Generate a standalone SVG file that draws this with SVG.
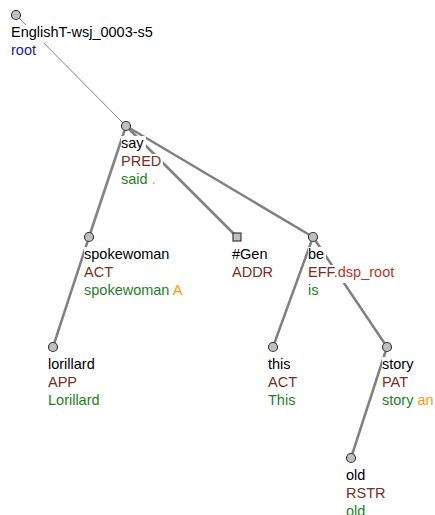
<svg xmlns="http://www.w3.org/2000/svg" width="435" height="515" viewBox="0 0 435 515">
<style>
text{font-family:"Liberation Sans",Arial,sans-serif;font-size:14.5px}
.n{fill:#000}.f{fill:#7a2e22}.s{fill:#b8352a}.l{fill:#1f7f1f}.o{fill:#ff9a00}.r{fill:#1c1ca0}
.bg{fill:#fff}
.e{stroke:#808080;stroke-width:2.5;fill:none}
.et{stroke:#808080;stroke-width:1;fill:none}
.c{fill:#c0c0c0;stroke:#3a3a3a;stroke-width:1.2}
</style>
<rect width="435" height="515" fill="#fff"/>
<g id="connectors">
<line class="et" x1="16" y1="15" x2="126" y2="126"/>
<line class="e" x1="126" y1="126" x2="89" y2="237"/>
<line class="e" x1="126" y1="126" x2="237" y2="237"/>
<line class="e" x1="126" y1="126" x2="313" y2="237"/>
<line class="e" x1="89" y1="237" x2="53" y2="347"/>
<line class="e" x1="313" y1="237" x2="273" y2="347"/>
<line class="e" x1="313" y1="237" x2="387" y2="347"/>
<line class="e" x1="387" y1="347" x2="351" y2="458"/>
</g>
<g id="node-root">
<rect class="bg" x="11" y="25" width="145" height="18"/>
<rect class="bg" x="11" y="43" width="27" height="18"/>
<text x="11" y="37" class="n">EnglishT-wsj_0003-s5</text>
<text x="11" y="55" class="r">root</text>
<circle class="c" cx="16" cy="15" r="4.5"/>
</g>
<g id="node-say">
<rect class="bg" x="121" y="136" width="25" height="18"/>
<rect class="bg" x="121" y="154" width="42" height="18"/>
<rect class="bg" x="121" y="172" width="37" height="18"/>
<text x="121" y="148" class="n">say</text>
<text x="121" y="166" class="f">PRED</text>
<text x="121" y="184"><tspan class="l">said</tspan> <tspan class="o">.</tspan></text>
<circle class="c" cx="126" cy="126" r="4.5"/>
</g>
<g id="node-spokewoman">
<rect class="bg" x="84" y="247" width="87" height="18"/>
<rect class="bg" x="84" y="265" width="31" height="18"/>
<rect class="bg" x="84" y="283" width="101" height="18"/>
<text x="84" y="259" class="n">spokewoman</text>
<text x="84" y="277" class="f">ACT</text>
<text x="84" y="295"><tspan class="l">spokewoman</tspan> <tspan class="o">A</tspan></text>
<circle class="c" cx="89" cy="237" r="4.5"/>
</g>
<g id="node-gen">
<rect class="bg" x="232" y="247" width="37" height="18"/>
<rect class="bg" x="232" y="265" width="43" height="18"/>
<text x="232" y="259" class="n">#Gen</text>
<text x="232" y="277" class="f">ADDR</text>
<rect class="c" x="233" y="233" width="8" height="8"/>
</g>
<g id="node-be">
<rect class="bg" x="308" y="247" width="18" height="18"/>
<rect class="bg" x="308" y="265" width="90" height="18"/>
<rect class="bg" x="308" y="283" width="12" height="18"/>
<text x="308" y="259" class="n">be</text>
<text x="308" y="277"><tspan class="f">EFF</tspan><tspan class="s">.dsp_root</tspan></text>
<text x="308" y="295" class="l">is</text>
<circle class="c" cx="313" cy="237" r="4.5"/>
</g>
<g id="node-lorillard">
<rect class="bg" x="48" y="357" width="48" height="18"/>
<rect class="bg" x="48" y="375" width="31" height="18"/>
<rect class="bg" x="48" y="393" width="53" height="18"/>
<text x="48" y="369" class="n">lorillard</text>
<text x="48" y="387" class="f">APP</text>
<text x="48" y="405" class="l">Lorillard</text>
<circle class="c" cx="53" cy="347" r="4.5"/>
</g>
<g id="node-this">
<rect class="bg" x="268" y="357" width="24" height="18"/>
<rect class="bg" x="268" y="375" width="31" height="18"/>
<rect class="bg" x="268" y="393" width="29" height="18"/>
<text x="268" y="369" class="n">this</text>
<text x="268" y="387" class="f">ACT</text>
<text x="268" y="405" class="l">This</text>
<circle class="c" cx="273" cy="347" r="4.5"/>
</g>
<g id="node-story">
<rect class="bg" x="382" y="357" width="33" height="18"/>
<rect class="bg" x="382" y="375" width="30" height="18"/>
<rect class="bg" x="382" y="393" width="53" height="18"/>
<text x="382" y="369" class="n">story</text>
<text x="382" y="387" class="f">PAT</text>
<text x="382" y="405"><tspan class="l">story</tspan> <tspan class="o">an</tspan></text>
<circle class="c" cx="387" cy="347" r="4.5"/>
</g>
<g id="node-old">
<rect class="bg" x="346" y="468" width="21" height="18"/>
<rect class="bg" x="346" y="486" width="41" height="18"/>
<rect class="bg" x="346" y="504" width="21" height="18"/>
<text x="346" y="480" class="n">old</text>
<text x="346" y="498" class="f">RSTR</text>
<text x="346" y="516" class="l">old</text>
<circle class="c" cx="351" cy="458" r="4.5"/>
</g>
</svg>
